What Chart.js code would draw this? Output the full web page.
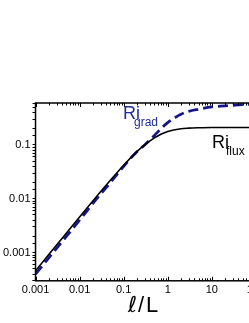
<!DOCTYPE html>
<html>
<head>
<meta charset="utf-8">
<script src="https://cdn.jsdelivr.net/npm/chart.js@4/dist/chart.umd.min.js"></script>
<style>
  html, body { margin: 0; padding: 0; background: #fff; overflow: hidden; }
  #wrap { width: 268px; height: 323px; }
</style>
</head>
<body>
<div id="wrap"><canvas id="riChart" width="268" height="323"></canvas></div>
<script>
'use strict';

var lengthRatio = [0.001, 0.002, 0.005, 0.01, 0.02, 0.05, 0.1, 0.2, 0.3, 0.5, 0.7, 1, 2, 3, 5, 10, 20, 50, 100];

// Ri_flux (solid black)
var riFlux = [0.00046, 0.00092, 0.0023, 0.0046, 0.0091, 0.022, 0.042, 0.075, 0.1, 0.135, 0.158, 0.178, 0.2, 0.205, 0.208, 0.21, 0.21, 0.21, 0.21];

// Ri_grad (dashed navy)
var riGrad = [0.0004, 0.0008, 0.002, 0.004, 0.0082, 0.02, 0.04, 0.075, 0.1, 0.15, 0.2, 0.26, 0.37, 0.42, 0.46, 0.51, 0.53, 0.56, 0.57];

var majorTicks = [0.001, 0.01, 0.1, 1, 10, 100];

var navy = '#15168c';

function toPoints(ys) {
  return lengthRatio.map(function(x, i) { return { x: x, y: ys[i] }; });
}

function isMajor(v) {
  return majorTicks.some(function(m) { return Math.abs(v / m - 1) < 1e-6; });
}

/**
 * Frame, inward x ticks, text labels.
 */
var decorations = {
  id: 'decorations',
  afterDraw: function(chart) {
    var ctx = chart.ctx;
    var area = chart.chartArea;
    var xs = chart.scales.x;

    ctx.save();
    ctx.strokeStyle = '#000';
    ctx.lineWidth = 1.5;
    ctx.strokeRect(area.left, area.top, area.right - area.left, area.bottom - area.top);

    // x ticks point into the plot, top and bottom
    ctx.lineWidth = 1;
    for (var d = -3; d <= 2; d++) {
      for (var m = 1; m <= 9; m++) {
        var v = m * Math.pow(10, d);
        if (v < xs.min || v > xs.max) continue;
        var px = Math.round(xs.getPixelForValue(v)) + 0.5;
        var len = m === 1 ? 4 : 2.5;
        ctx.beginPath();
        ctx.moveTo(px, area.bottom);
        ctx.lineTo(px, area.bottom - len);
        ctx.moveTo(px, area.top);
        ctx.lineTo(px, area.top + len);
        ctx.stroke();
      }
    }

    ctx.textBaseline = 'alphabetic';
    ctx.textAlign = 'left';

    // Ri_grad label
    ctx.fillStyle = '#1f2c9c';
    ctx.font = '18px "Liberation Sans", Arial, sans-serif';
    ctx.fillText('Ri', 123, 119);
    ctx.font = '12px "Liberation Sans", Arial, sans-serif';
    ctx.fillText('grad', 134, 126);

    // Ri_flux label
    ctx.fillStyle = '#000';
    ctx.font = '18px "Liberation Sans", Arial, sans-serif';
    ctx.fillText('Ri', 212, 148);
    ctx.font = '12px "Liberation Sans", Arial, sans-serif';
    ctx.fillText('flux', 226, 155);

    // x axis title l/L
    ctx.font = 'italic 22px "DejaVu Sans", sans-serif';
    ctx.fillText('\u2113', 128, 312);
    ctx.font = '22px "Liberation Sans", Arial, sans-serif';
    ctx.fillText('/', 138, 312);
    ctx.fillText('L', 146, 312);
    ctx.restore();
  }
};

var ctx = document.getElementById('riChart').getContext('2d');
var riChart = new Chart(ctx, {
  type: 'line',
  data: {
    datasets: [
      {
        label: 'Ri_flux',
        data: toPoints(riFlux),
        borderColor: '#000',
        borderWidth: 1.6,
        pointRadius: 0,
        cubicInterpolationMode: 'monotone',
        fill: false
      },
      {
        label: 'Ri_grad',
        data: toPoints(riGrad),
        borderColor: navy,
        borderWidth: 2.8,
        borderDash: [10, 5],
        pointRadius: 0,
        cubicInterpolationMode: 'monotone',
        fill: false
      }
    ]
  },
  options: {
    responsive: false,
    animation: false,
    layout: { padding: { left: 1, top: 103, right: 0, bottom: 23 } },
    plugins: {
      legend: { display: false },
      tooltip: { enabled: false }
    },
    scales: {
      x: {
        type: 'logarithmic',
        min: 0.001,
        max: 100,
        border: { display: false },
        grid: { display: false, drawTicks: false },
        ticks: {
          color: '#000',
          padding: 3,
          maxRotation: 0,
          autoSkip: false,
          font: { family: '"Liberation Sans", Arial, sans-serif', size: 11 },
          callback: function(v) { return isMajor(v) ? String(v) : ''; }
        },
        afterBuildTicks: function(scale) {
          scale.ticks = majorTicks.map(function(v) { return { value: v }; });
        }
      },
      y: {
        type: 'logarithmic',
        min: 0.0003,
        max: 0.6,
        border: { display: false },
        grid: {
          drawOnChartArea: false,
          color: '#000',
          tickLength: 3,
          tickWidth: 1
        },
        ticks: {
          color: '#000',
          padding: 2,
          autoSkip: false,
          font: { family: '"Liberation Sans", Arial, sans-serif', size: 11 },
          callback: function(v) { return isMajor(v) ? String(v) : ''; }
        }
      }
    }
  },
  plugins: [decorations]
});
</script>
</body>
</html>
